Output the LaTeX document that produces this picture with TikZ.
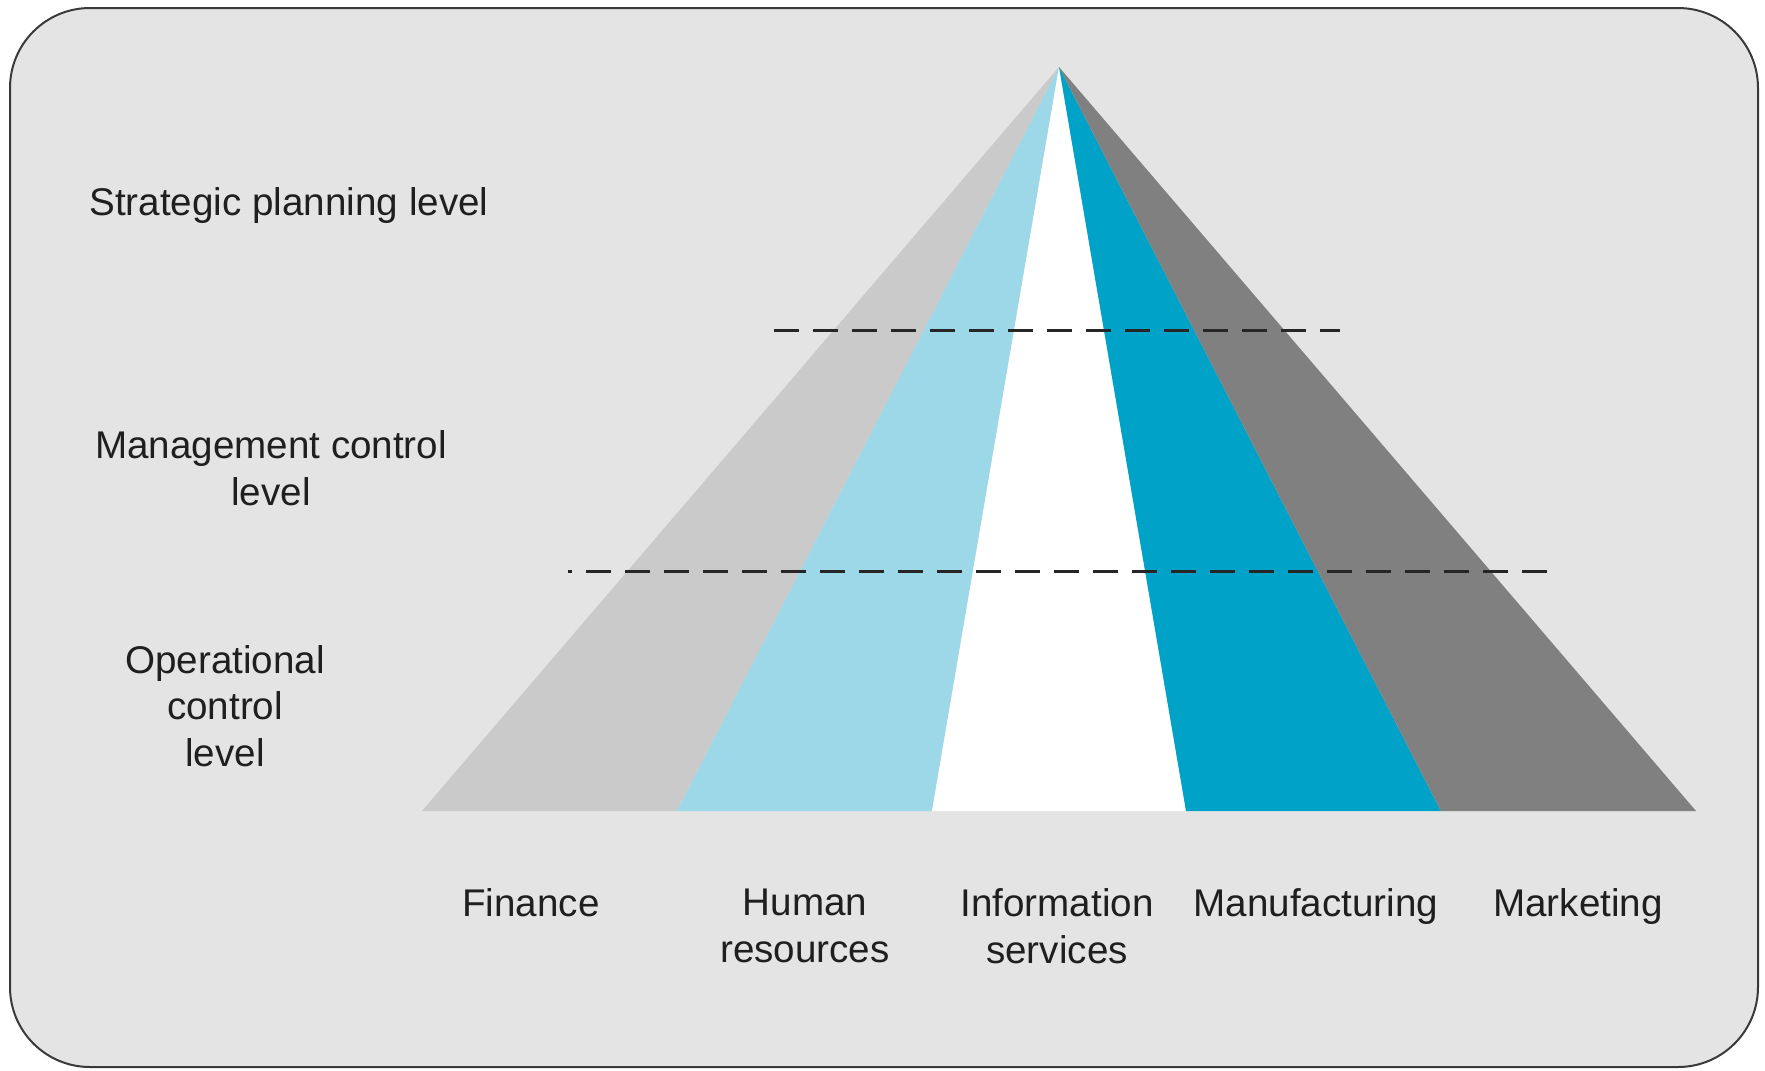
\documentclass[tikz,border=0pt]{standalone}
\usepackage{fontspec}
\setmainfont{Liberation Sans}

\definecolor{panel}{HTML}{E4E4E4}
\definecolor{frame}{HTML}{3A3A3A}
\definecolor{finance}{HTML}{CACACA}
\definecolor{human}{HTML}{9DD8E9}
\definecolor{infosrv}{HTML}{FFFFFF}
\definecolor{manuf}{HTML}{00A2C7}
\definecolor{market}{HTML}{808080}

\tikzset{
  label/.style={align=center, inner sep=0pt, text=black!88,
    font=\fontsize{19.3bp}{23.2bp}\selectfont},
  levelline/.style={line width=1.5bp, draw=black!85,
    dash pattern=on 12.5bp off 7bp}
}

\begin{document}
\begin{tikzpicture}[x=0.5bp,y=-0.5bp]
  \useasboundingbox (0,0) rectangle (1765,1070);

  \draw[draw=frame, fill=panel, line width=1bp, rounded corners=40bp]
    (10,8) rectangle (1758,1067);

  % pyramid corners
  \coordinate (top) at (1059,67);
  \coordinate (b0) at (422,811);
  \coordinate (b1) at (677,811);
  \coordinate (b2) at (932,811);
  \coordinate (b3) at (1186,811);
  \coordinate (b4) at (1441,811);
  \coordinate (b5) at (1696,811);

  \fill[finance] (top) -- (b0) -- (b1) -- cycle;
  \fill[human]   (top) -- (b1) -- (b2) -- cycle;
  \fill[infosrv] (top) -- (b2) -- (b3) -- cycle;
  \fill[manuf]   (top) -- (b3) -- (b4) -- cycle;
  \fill[market]  (top) -- (b4) -- (b5) -- cycle;

  % level boundaries
  \coordinate (upL) at (774,330);
  \coordinate (upR) at (1340,330);
  \coordinate (loL) at (568,571);
  \coordinate (loR) at (1548,571);
  \draw[levelline] (upL) -- (upR);
  \draw[levelline, dash phase=10.5bp] (loL) -- (loR);

  \begin{scope}[every node/.style={label}]
    \node (strategic) at (289,206) {Strategic planning level};
    \node (management) at (271,468) {Management control\\level};
    \node (operational) at (225,706) {Operational\\control\\level};

    \node (fin) at (531,903) {Finance};
    \node (hr)  at (805,926) {Human\\resources};
    \node (is)  at (1057,926) {Information\\services};
    \node (mfg) at (1316,907) {Manufacturing};
    \node (mkt) at (1578,907) {Marketing};
  \end{scope}
\end{tikzpicture}
\end{document}
